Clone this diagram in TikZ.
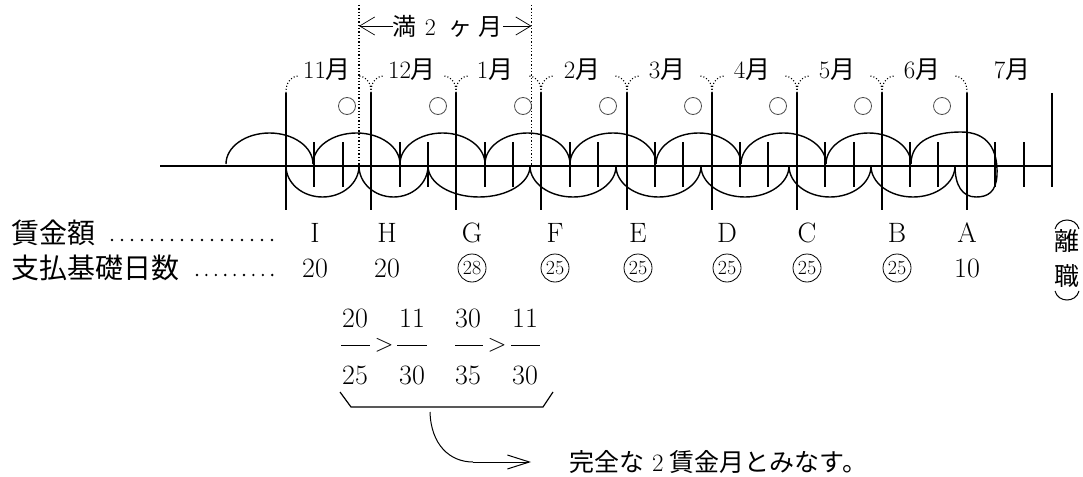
\documentclass[tikz,border=0pt]{standalone}
\usepackage{fontspec}
\newfontfamily\jpfont{Noto Sans CJK JP}
\newcommand{\J}[1]{{\jpfont #1}}
\usetikzlibrary{arrows.meta}
\begin{document}
\begin{tikzpicture}[x=1pt,y=-1pt,
  axisline/.style={line width=2pt},
  tallline/.style={line width=2pt},
  tickline/.style={line width=1.8pt},
  loopline/.style={line width=1.4pt},
  dotline/.style={dotted,line width=1.3pt},
  armline/.style={dotted,line width=1.1pt},
  smallcirc/.style={draw=black!70,line width=0.8pt},
  monthlbl/.style={inner sep=0pt,font=\fontsize{25}{28}\selectfont},
  hdr/.style={inner sep=0pt,font=\fontsize{24}{28}\selectfont},
  rowlbl/.style={inner sep=0pt,anchor=west,font=\fontsize{28}{30}\selectfont},
  tbl/.style={inner sep=0pt,font=\fontsize{28}{30}\selectfont},
  circnum/.style={draw,circle,line width=0.8pt,minimum size=28pt,inner sep=0pt,font=\fontsize{20}{20}\selectfont},
  fracnum/.style={inner sep=0pt,font=\fontsize{28}{30}\selectfont},
  barline/.style={line width=1pt},
  bracketline/.style={line width=1.2pt},
  headarrow/.style={line width=0.7pt,-{Straight Barb[length=15pt,width=18pt]}},
  resarrow/.style={line width=1pt,-{Straight Barb[length=22pt,width=14pt]}},
  resnode/.style={inner sep=0pt,anchor=west,font=\fontsize{25}{28}\selectfont},
  vtext/.style={inner sep=0pt,font=\fontsize{25}{27}\selectfont},
  parenline/.style={line width=1pt}
]
\useasboundingbox (0,0) rectangle (1083,476);

% main axis
\coordinate (axL) at (160,166);
\coordinate (axR) at (1052,166);
\draw[axisline] (axL) -- (axR);

% tall month boundary lines
\foreach \x [count=\i] in {286,371,456,541,627,712,797,882,967} {
  \coordinate (t\i) at (\x,93);
  \coordinate (b\i) at (\x,210);
  \draw[tallline] (t\i) -- (b\i);
}
\coordinate (t10) at (1052,93);
\coordinate (b10) at (1052,187);
\draw[tallline] (t10) -- (b10);

% short ticks
\foreach \x in {314,343,400,428,485,513,570,598,655,683,740,768,825,854,910,938,995,1024}
  \draw[tickline] (\x,142) -- (\x,187);

% upper arches
\foreach \a/\b in {226/313,313/400,400/485,485/570,570/656,656/741,741/826,826/911}
  \draw[loopline] (\a,164) arc[start angle=180,end angle=360,x radius={(\b-\a)/2},y radius=31];

% lower arcs
\foreach \a/\b in {286/359,359/428,428/530,530/616,616/701,701/789,789/871,871/955}
  \draw[loopline] (\a,166) arc[start angle=180,end angle=0,x radius={(\b-\a)/2},y radius=31];

% final loop
\draw[loopline] (911,164) .. controls (911,140) and (935,132) .. (961,132)
  .. controls (988,132) and (998,150) .. (997,175)
  .. controls (996,192) and (988,197) .. (976,197)
  .. controls (962,197) and (955,185) .. (955,166);

% dotted verticals
\coordinate (d1t) at (359,5);
\coordinate (d1b) at (359,166);
\coordinate (d2t) at (531.5,5);
\coordinate (d2b) at (531.5,166);
\draw[dotline] (d1t) -- (d1b);
\draw[dotline] (d2t) -- (d2b);

% dotted bracket arms
\foreach \x in {286,371,456,541,627,712,797,882}
  \draw[armline] (\x,93) .. controls (\x,84) and (\x+3,77) .. (\x+12,76);
\foreach \x in {371,456,541,627,712,797,882,967}
  \draw[armline] (\x,93) .. controls (\x,84) and (\x-3,77) .. (\x-12,76);

% small circles
\foreach \x in {347,438,523,608,693,778,863,942}
  \draw[smallcirc] (\x,106) circle[radius=8.5];

% month labels
\node[monthlbl] (m11) at (327,70) {11\J{月}};
\node[monthlbl] (m12) at (412,70) {12\J{月}};
\node[monthlbl] (m1) at (495,70) {1\J{月}};
\node[monthlbl] (m2) at (582,70) {2\J{月}};
\node[monthlbl] (m3) at (667,70) {3\J{月}};
\node[monthlbl] (m4) at (752,70) {4\J{月}};
\node[monthlbl] (m5) at (837,70) {5\J{月}};
\node[monthlbl] (m6) at (922,70) {6\J{月}};
\node[monthlbl] (m7) at (1012,70) {7\J{月}};

% header
\node[hdr] (man) at (448,26) {\J{満}\hspace{8pt}2\hspace{12pt}\J{ヶ}\hspace{7pt}\J{月}};
\draw[headarrow] (man.west) -- (man.west -| d1t);
\draw[headarrow] (man.east) -- (man.east -| d2t);

% table
\node[rowlbl] (lab1) at (11,233) {\J{賃金額}};
\node[rowlbl] (lab2) at (11,268) {\J{支払基礎日数}};
\foreach \i in {0,...,16}
  \fill (112+\i*10,240) circle[radius=1.3];
\foreach \i in {0,...,8}
  \fill (197+\i*9.4,275) circle[radius=1.3];

\node[tbl] (wI) at (315,233) {I};
\node[tbl] (wH) at (387,233) {H};
\node[tbl] (wG) at (472,233) {G};
\node[tbl] (wF) at (555,233) {F};
\node[tbl] (wE) at (638,233) {E};
\node[tbl] (wD) at (727,233) {D};
\node[tbl] (wC) at (807,233) {C};
\node[tbl] (wB) at (897,233) {B};
\node[tbl] (wA) at (967,233) {A};

\node[tbl] (dI) at (315,268) {20};
\node[tbl] (dH) at (387,268) {20};
\node[circnum] (dG) at (472,268) {28};
\node[circnum] (dF) at (555,268) {25};
\node[circnum] (dE) at (638,268) {25};
\node[circnum] (dD) at (727,268) {25};
\node[circnum] (dC) at (807,268) {25};
\node[circnum] (dB) at (897,268) {25};
\node[tbl] (dA) at (967,268) {10};

% (離職)
\node[vtext] (ri) at (1067,241) {\J{離}};
\node[vtext] (shoku) at (1067,276) {\J{職}};
\draw[parenline] (1055,229) .. controls (1058,217) and (1076,217) .. (1079,229);
\draw[parenline] (1055,291) .. controls (1058,303) and (1076,303) .. (1079,291);

% fractions
\node[fracnum] (n1) at (355,318) {20};
\node[fracnum] (n2) at (412,318) {11};
\node[fracnum] (n3) at (468,318) {30};
\node[fracnum] (n4) at (525,318) {11};
\node[fracnum] (q1) at (355,375) {25};
\node[fracnum] (q2) at (412,375) {30};
\node[fracnum] (q3) at (468,375) {35};
\node[fracnum] (q4) at (525,375) {30};
\draw[barline] (341,345) -- (370,345);
\draw[barline] (397,345) -- (427,345);
\draw[barline] (455,345) -- (483,345);
\draw[barline] (511,345) -- (540,345);
\node[fracnum] (gt1) at (384,345) {$>$};
\node[fracnum] (gt2) at (497,345) {$>$};

% bracket
\coordinate (k1) at (340,392);
\coordinate (k2) at (351,407);
\coordinate (k3) at (543,407);
\coordinate (k4) at (553,392);
\draw[bracketline] (k1) -- (k2) -- (k3) -- (k4);

% result arrow
\coordinate (cs) at (430,412);
\coordinate (ce) at (473,462);
\node[resnode] (res) at (569,462) {\J{完全な}\hspace{8pt}2\hspace{6pt}\J{賃金月とみなす。}};
\draw[line width=1pt] (cs) .. controls (431,445) and (450,462) .. (ce);
\draw[resarrow] (ce) -- (res.west -| 531,0);
\end{tikzpicture}
\end{document}
